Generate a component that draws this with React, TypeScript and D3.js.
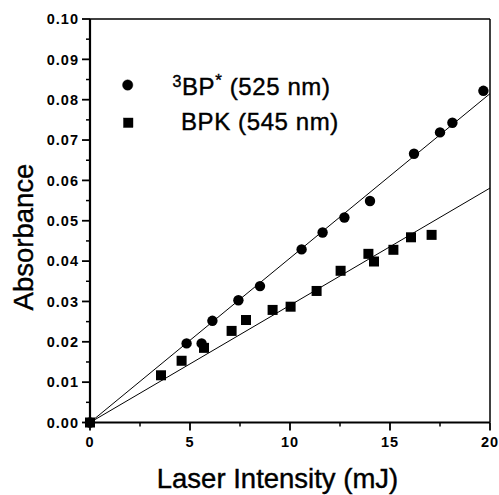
import React from "react";
import * as d3 from "d3";

const circleX = [0, 4.83, 5.58, 6.12, 7.42, 8.5, 10.58, 11.63, 12.72, 14.0, 16.2, 17.5, 18.12, 19.67];
const circleY = [0, 0.0196, 0.0196, 0.0252, 0.0303, 0.0338, 0.0429, 0.0471, 0.0508, 0.0549, 0.0666, 0.0719, 0.0743, 0.0822];

const squareX = [0, 3.55, 4.58, 5.7, 7.08, 7.8, 9.13, 10.03, 11.33, 12.53, 13.92, 14.2, 15.17, 16.05, 17.08];
const squareY = [0, 0.0117, 0.0153, 0.0185, 0.0227, 0.0254, 0.0279, 0.0287, 0.0326, 0.0376, 0.0418, 0.0399, 0.0428, 0.0459, 0.0465];

const fitCircleX = [0, 20];
const fitCircleY = [0, 0.0815];
const fitSquareX = [0, 20];
const fitSquareY = [0, 0.0581];

const xMajorTicks = [0, 5, 10, 15, 20];
const xMinorTicks = [2.5, 7.5, 12.5, 17.5];
const yMajorTicks = [0, 0.01, 0.02, 0.03, 0.04, 0.05, 0.06, 0.07, 0.08, 0.09, 0.1];
const yMinorTicks = [0.005, 0.015, 0.025, 0.035, 0.045, 0.055, 0.065, 0.075, 0.085, 0.095];

const legendLabels = ["BP", "BPK (545 nm)"];

const FONT = "'Liberation Sans', Arial, Helvetica, sans-serif";

export default function App() {
  const x = d3.scaleLinear().domain([0, 20]).range([90, 490]);
  const y = d3.scaleLinear().domain([0, 0.1]).range([422.5, 19]);
  const line = d3
    .line<[number, number]>()
    .x((d) => x(d[0]))
    .y((d) => y(d[1]));

  const fit1 = fitCircleX.map((v, i) => [v, fitCircleY[i]] as [number, number]);
  const fit2 = fitSquareX.map((v, i) => [v, fitSquareY[i]] as [number, number]);
  const x0 = x(0), x1 = x(20), y0 = y(0), y1 = y(0.1);

  return (
    <svg
      width={499}
      height={495}
      style={{ position: "absolute", left: 0, top: 0, background: "#fff" }}
      fontFamily={FONT}
    >
      <rect x={0} y={0} width={499} height={495} fill="#fff" />
      {/* frame */}
      <line x1={x0} x2={x1} y1={y1} y2={y1} stroke="#000" strokeWidth={1.5} />
      <line x1={x1} x2={x1} y1={y1} y2={y0} stroke="#000" strokeWidth={1.5} />
      <line x1={x0} x2={x0} y1={y1} y2={y0 + 1} stroke="#000" strokeWidth={2.2} />
      <line x1={x0 - 1} x2={x1} y1={y0} y2={y0} stroke="#000" strokeWidth={2.2} />

      {/* y ticks */}
      {yMajorTicks.map((t) => (
        <g key={"ym" + t}>
          <line x1={x0 - 8} x2={x0} y1={y(t)} y2={y(t)} stroke="#000" strokeWidth={1.8} />
          <text
            x={x0 - 11}
            y={y(t)}
            dy="0.36em"
            textAnchor="end"
            fontSize={14.5}
            fontWeight="bold"
            letterSpacing={1}
          >
            {d3.format(".2f")(t)}
          </text>
        </g>
      ))}
      {yMinorTicks.map((t) => (
        <line key={"yn" + t} x1={x0 - 4} x2={x0} y1={y(t)} y2={y(t)} stroke="#000" strokeWidth={1.5} />
      ))}

      {/* x ticks */}
      {xMajorTicks.map((t) => (
        <g key={"xm" + t}>
          <line x1={x(t)} x2={x(t)} y1={y0} y2={y0 + 8} stroke="#000" strokeWidth={1.8} />
          <text
            x={x(t)}
            y={447}
            textAnchor="middle"
            fontSize={14.5}
            fontWeight="bold"
            letterSpacing={1}
          >
            {t}
          </text>
        </g>
      ))}
      {xMinorTicks.map((t) => (
        <line key={"xn" + t} x1={x(t)} x2={x(t)} y1={y0} y2={y0 + 4} stroke="#000" strokeWidth={1.5} />
      ))}

      {/* fit lines */}
      <path d={line(fit1) || ""} fill="none" stroke="#000" strokeWidth={1} />
      <path d={line(fit2) || ""} fill="none" stroke="#000" strokeWidth={1} />

      {/* data */}
      {circleX.map((v, i) => (
        <circle key={"c" + i} cx={x(v)} cy={y(circleY[i])} r={5.2} fill="#000" />
      ))}
      {squareX.map((v, i) => (
        <rect key={"s" + i} x={x(v) - 5} y={y(squareY[i]) - 5} width={10} height={10} fill="#000" />
      ))}

      {/* legend */}
      <g stroke="#000" strokeWidth={0.4}>
        <circle cx={127.7} cy={85} r={5.2} fill="#000" />
        <rect x={123.5} y={118} width={9.5} height={9.5} fill="#000" />
        <text x={172.5} y={95} fontSize={24} letterSpacing={0.6}>
          <tspan fontSize={16} dy={-8}>3</tspan>
          <tspan dy={8}>{legendLabels[0]}</tspan>
          <tspan fontSize={17} dy={-9}>*</tspan>
          <tspan dy={9}> (525 nm)</tspan>
        </text>
        <text x={181} y={130} fontSize={24} letterSpacing={0.6}>
          {legendLabels[1]}
        </text>
      </g>

      {/* axis titles */}
      <g stroke="#000" strokeWidth={0.4}>
        <text x={277.5} y={488} textAnchor="middle" fontSize={27.5}>
          Laser Intensity (mJ)
        </text>
        <text transform="translate(33,237) rotate(-90)" textAnchor="middle" fontSize={27.5}>
          Absorbance
        </text>
      </g>
    </svg>
  );
}
